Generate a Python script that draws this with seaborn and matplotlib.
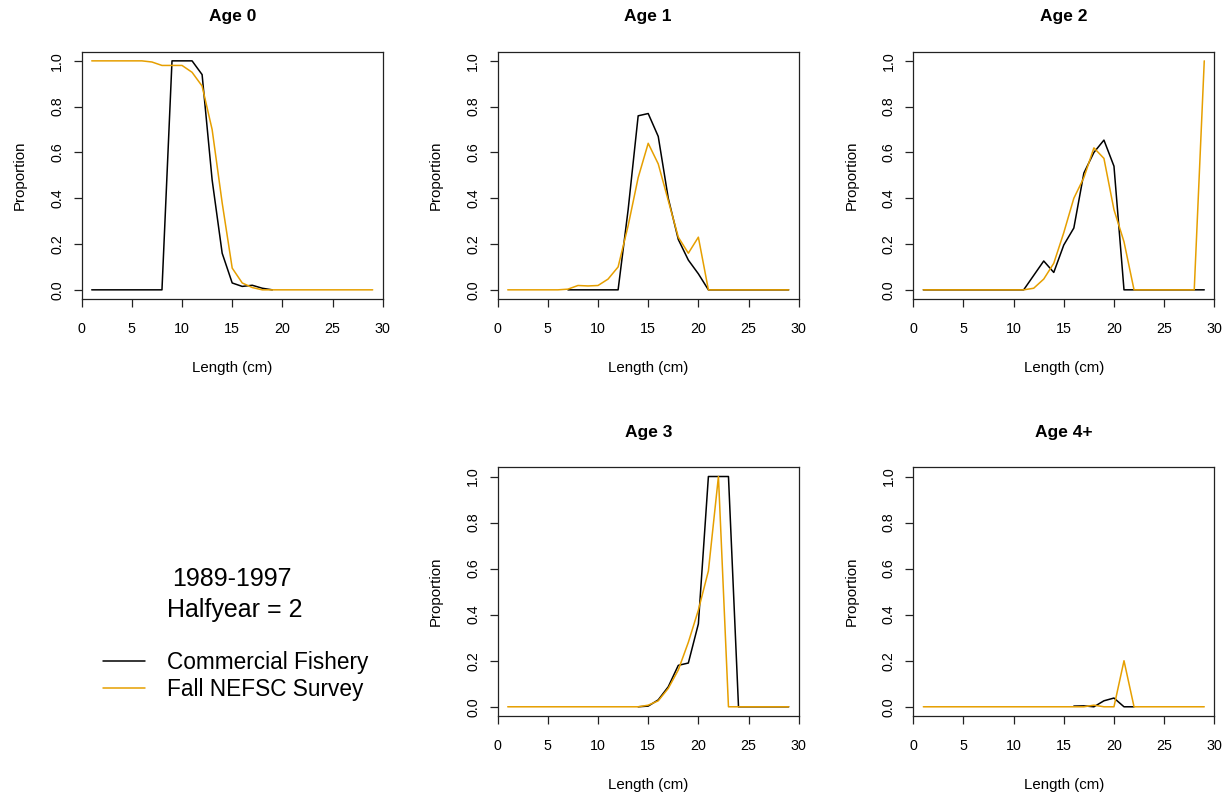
import matplotlib
matplotlib.use("Agg")
import matplotlib.pyplot as plt
from matplotlib.lines import Line2D
import seaborn as sns
import pandas as pd

# Proportion at length by age, second half-year, 1989-1997
panel_titles = ["Age 0", "Age 1", "Age 2", "Age 3", "Age 4+"]
series_names = ["Commercial Fishery", "Fall NEFSC Survey"]
x_ticks = [0, 5, 10, 15, 20, 25, 30]
y_ticks = [0.0, 0.2, 0.4, 0.6, 0.8, 1.0]

# first length (cm) of each series, values follow at 1 cm steps
age0_comm_start = 1
age0_comm = [0, 0, 0, 0, 0, 0, 0, 0, 1.0, 1.0, 1.0, 0.94, 0.48, 0.16, 0.03,
             0.015, 0.02, 0.007, 0.0]
age0_surv_start = 1
age0_surv = [1.0, 1.0, 1.0, 1.0, 1.0, 1.0, 0.995, 0.98, 0.98, 0.98, 0.95,
             0.89, 0.70, 0.38, 0.095, 0.03, 0.01, 0, 0, 0, 0, 0, 0, 0, 0, 0,
             0, 0, 0]

age1_comm_start = 7
age1_comm = [0, 0, 0, 0, 0, 0, 0.35, 0.76, 0.77, 0.67, 0.40, 0.22, 0.13,
             0.07, 0, 0, 0, 0, 0, 0, 0, 0, 0]
age1_surv_start = 1
age1_surv = [0, 0, 0, 0, 0, 0, 0.003, 0.019, 0.017, 0.019, 0.047, 0.10,
             0.28, 0.49, 0.64, 0.55, 0.39, 0.23, 0.16, 0.23, 0, 0, 0, 0, 0,
             0, 0, 0, 0]

age2_comm_start = 1
age2_comm = [0, 0, 0, 0, 0, 0, 0, 0, 0, 0, 0, 0.063, 0.126, 0.076, 0.196,
             0.27, 0.51, 0.60, 0.654, 0.54, 0, 0, 0, 0, 0, 0, 0, 0, 0]
age2_surv_start = 1
age2_surv = [0, 0, 0, 0, 0, 0, 0, 0, 0, 0, 0, 0.007, 0.047, 0.116, 0.25,
             0.40, 0.49, 0.62, 0.574, 0.35, 0.21, 0, 0, 0, 0, 0, 0, 0, 1.0]

age3_comm_start = 14
age3_comm = [0, 0.003, 0.03, 0.087, 0.18, 0.19, 0.36, 1.0, 1.0, 1.0, 0, 0,
             0, 0, 0, 0]
age3_surv_start = 1
age3_surv = [0, 0, 0, 0, 0, 0, 0, 0, 0, 0, 0, 0, 0, 0, 0.007, 0.026, 0.08,
             0.16, 0.28, 0.42, 0.59, 1.0, 0, 0, 0, 0, 0, 0, 0]

age4_comm_start = 16
age4_comm = [0.003, 0.004, 0.0, 0.026, 0.038, 0.0, 0.0]
age4_surv_start = 1
age4_surv = [0, 0, 0, 0, 0, 0, 0, 0, 0, 0, 0, 0, 0, 0, 0, 0, 0, 0.007, 0,
             0, 0.2, 0, 0, 0, 0, 0, 0, 0, 0]

panels = [
    ((age0_comm_start, age0_comm), (age0_surv_start, age0_surv)),
    ((age1_comm_start, age1_comm), (age1_surv_start, age1_surv)),
    ((age2_comm_start, age2_comm), (age2_surv_start, age2_surv)),
    ((age3_comm_start, age3_comm), (age3_surv_start, age3_surv)),
    ((age4_comm_start, age4_comm), (age4_surv_start, age4_surv)),
]

line_colors = ["#000000", "#E69F00"]

sns.set_style("ticks")
plt.rcParams["font.family"] = ["Liberation Sans", "DejaVu Sans"]
plt.rcParams["text.color"] = "black"
plt.rcParams["axes.labelcolor"] = "black"
plt.rcParams["axes.edgecolor"] = "#222222"
plt.rcParams["xtick.color"] = "#222222"
plt.rcParams["ytick.color"] = "#222222"
plt.rcParams["xtick.labelcolor"] = "black"
plt.rcParams["ytick.labelcolor"] = "black"

fig = plt.figure(figsize=(12.30, 7.94), dpi=100)

W, H = 1230.0, 794.0
# axes boxes in pixels: left, top, right, bottom
boxes = [
    (81.7, 51.7, 382.7, 299.0),
    (497.7, 51.7, 798.7, 299.0),
    (913.3, 51.7, 1214.3, 299.0),
    (497.7, 467.3, 798.7, 716.0),
    (913.3, 467.3, 1214.3, 716.0),
]


def to_frame(start, values, name):
    return pd.DataFrame({
        "length": list(range(start, start + len(values))),
        "proportion": values,
        "series": name,
    })


for (l, t, r, b), title, pair in zip(boxes, panel_titles, panels):
    ax = fig.add_axes([l / W, 1 - b / H, (r - l) / W, (b - t) / H])
    for (start, vals), name, col in zip(pair, series_names, line_colors):
        df = to_frame(start, vals, name)
        sns.lineplot(data=df, x="length", y="proportion", color=col,
                     linewidth=1.1, ax=ax, legend=False)
    ax.set_xlim(0, 30)
    ax.set_ylim(-0.04, 1.04)
    ax.set_xticks(x_ticks)
    ax.set_yticks(y_ticks)
    ax.set_xticklabels([str(v) for v in x_ticks])
    ax.set_yticklabels([f"{v:.1f}" for v in y_ticks], rotation=90, va="center")
    ax.tick_params(axis="both", length=5.5, width=0.9, labelsize=10.3)
    ax.tick_params(axis="x", pad=11)
    ax.tick_params(axis="y", pad=7)
    for sp in ax.spines.values():
        sp.set_linewidth(0.9)
        sp.set_visible(True)
    ax.set_xlabel("Length (cm)", fontsize=10.8, labelpad=18)
    ax.set_ylabel("Proportion", fontsize=10.8, labelpad=17)
    ax.set_title(title, fontsize=12.5, fontweight="bold", pad=22)

# key in the empty lower-left slot
fig.text(171.7 / W, 1 - 586 / H, "1989-1997", fontsize=18, va="baseline",
         ha="left")
fig.text(166.7 / W, 1 - 617 / H, "Halfyear = 2", fontsize=18, va="baseline",
         ha="left")
handles = [Line2D([0], [0], color=c, linewidth=1.1) for c in line_colors]
fig.legend(handles, series_names, loc="upper left",
           bbox_to_anchor=(103 / W, 1 - 651 / H), frameon=False,
           fontsize=16.3, borderpad=0, borderaxespad=0, handlelength=1.86,
           handletextpad=0.96, labelspacing=0.18)

fig.savefig("out.png", dpi=100)
